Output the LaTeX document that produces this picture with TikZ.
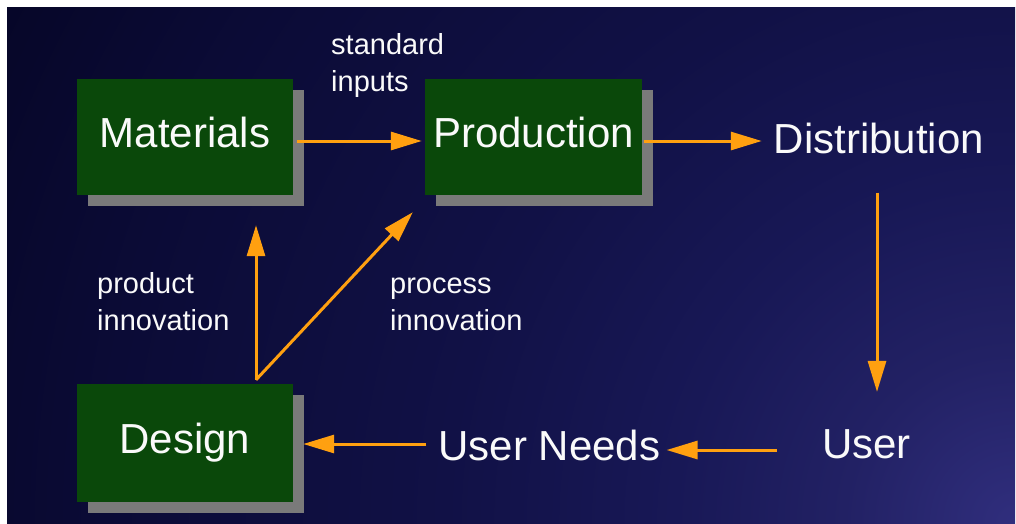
\documentclass[tikz,border=0pt]{standalone}
\usepackage{fontspec}
\setmainfont{Liberation Sans}
\usetikzlibrary{arrows.meta,shadows}
\definecolor{boxgreen}{RGB}{10,72,10}
\definecolor{shadowgray}{RGB}{122,122,122}
\definecolor{arrorange}{RGB}{255,160,16}
\definecolor{txt}{RGB}{250,250,250}
\definecolor{bgA}{RGB}{48,46,125}
\definecolor{bgB}{RGB}{34,33,100}
\definecolor{bgC}{RGB}{24,24,86}
\definecolor{bgD}{RGB}{17,17,70}
\definecolor{bgE}{RGB}{11,11,54}
\definecolor{bgF}{RGB}{6,6,40}
\pgfdeclareradialshading{bgglow}{\pgfpoint{0bp}{0bp}}{color(0bp)=(bgA); color(3.75bp)=(bgB); color(7.5bp)=(bgC); color(12.5bp)=(bgD); color(20bp)=(bgE); color(25bp)=(bgF); color(50bp)=(bgF)}
\begin{document}
\begin{tikzpicture}[x=1pt,y=-1pt,
  box/.style={fill=boxgreen, minimum width=216pt, minimum height=116pt,
    inner sep=0pt, text=txt, font=\fontsize{42}{50}\selectfont,
    text height=30pt, text depth=10pt,
    drop shadow={shadow xshift=11pt, shadow yshift=-11pt, fill=shadowgray, opacity=1}},
  big/.style={text=txt, font=\fontsize{42}{50}\selectfont, inner sep=0pt, anchor=base},
  small/.style={text=txt, font=\fontsize{29}{37}\selectfont, align=left, inner sep=0pt, anchor=base west},
  arr/.style={draw=arrorange, line width=3pt, -{Triangle[length=31pt,width=18pt]}}
]
\useasboundingbox (0,0) rectangle (1016,523);
\fill[white] (0,0) rectangle (1016,523);
\begin{scope}
  \clip (7,7) rectangle (1015,523);
  \shade[shading=bgglow] (1015,523) circle (1140);
\end{scope}

\node[box] (mat) at (185,137) {Materials};
\node[box, minimum width=217pt] (prod) at (533.5,137) {Production};
\node[box, minimum height=118pt] (des) at (185,443) {Design};
\node[big] (dist) at (879,153) {Distribution};
\node[big] (user) at (866.5,458) {User};
\node[big] (needs) at (549.5,460) {User Needs};

\node[small] (std) at (331,91) {standard\\inputs};
\node[small] (pdi) at (97,330) {product\\innovation};
\node[small] (pci) at (390,330) {process\\innovation};

\coordinate (dtop) at ([xshift=71pt,yshift=4pt]des.north);
\draw[arr] ([xshift=4pt,yshift=-4pt]mat.east) -- ([xshift=-3pt,yshift=-4pt]prod.west);
\draw[arr] ([xshift=2pt,yshift=-4pt]prod.east) -- ([xshift=-12pt,yshift=12pt]dist.base west);
\coordinate (dbot) at ([xshift=-2pt,yshift=-39pt]dist.south);
\coordinate (utop) at ([yshift=37pt]user.north);
\draw[arr] (dbot) -- (dbot |- utop);
\draw[arr] ([xshift=-45pt,yshift=8pt]user.base west) -- ([xshift=6pt,yshift=10pt]needs.base east);
\draw[arr] ([xshift=-12pt,yshift=16pt]needs.base west) -- ([xshift=10pt,yshift=-1pt]des.east);
\draw[arr] (dtop) -- ([xshift=71pt,yshift=-30pt]mat.south);
\draw[arr] (dtop) -- ([xshift=-12pt,yshift=-17pt]prod.south west);
\end{tikzpicture}
\end{document}
